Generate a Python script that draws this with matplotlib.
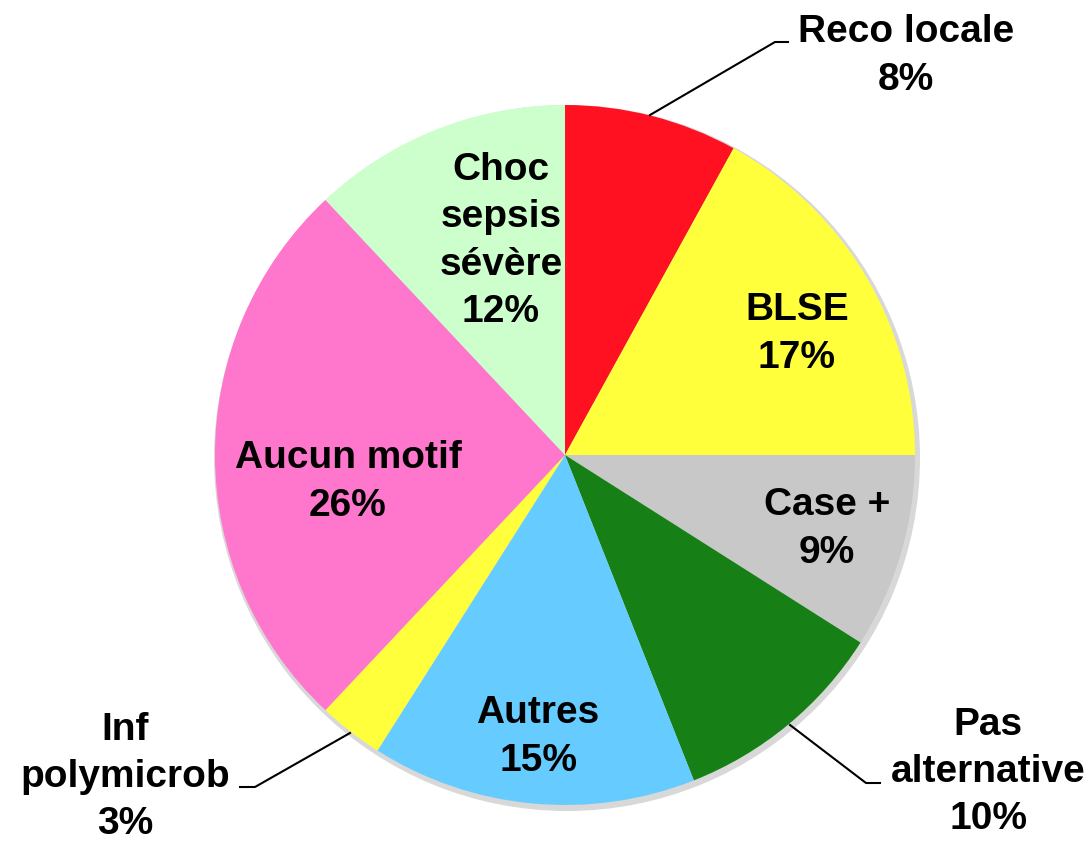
import matplotlib.pyplot as plt

plt.rcParams['font.family'] = ['Liberation Sans', 'DejaVu Sans']

labels = ["Reco locale", "BLSE", "Case +", "Pas\nalternative", "Autres",
          "Inf\npolymicrob", "Aucun motif", "Choc\nsepsis\nsévère"]
values = [8, 17, 9, 10, 15, 3, 26, 12]
colors = ["#FF1122", "#FFFF3C", "#C8C8C8", "#168016", "#66CCFF",
          "#FFFF3C", "#FF77CC", "#CCFFCC"]

W, H = 1091, 842
fig = plt.figure(figsize=(W / 100, H / 100), dpi=100)
ax = fig.add_axes([0, 0, 1, 1])

cx, cy, r = 565, H - 455, 350

# faint shadow under the pie
ax.pie([1], colors=["#D8D8D8"], radius=r + 3, center=(cx + 2, cy - 3),
       frame=True, wedgeprops=dict(linewidth=0))
ax.pie(values, colors=colors, radius=r, center=(cx, cy), startangle=90,
       counterclock=False, frame=True, wedgeprops=dict(linewidth=0))
ax.set_xlim(0, W)
ax.set_ylim(0, H)
ax.set_aspect("equal")
ax.axis("off")

# label positions in image pixels (x, y from top)
pos = [(906, 56), (797, 334), (827, 529), (988, 772), (538, 737),
       (125, 777), (348, 482), (501, 241)]
for lab, v, (x, y) in zip(labels, values, pos):
    ax.text(x, H - y, f"{lab}\n{v}%", ha="center", va="center",
            fontsize=28, fontweight="bold", linespacing=1.4, color="black")

leaders = [[(650, 115), (775, 42), (788, 42)],
           [(790, 725), (866, 783), (880, 783)],
           [(350, 733), (255, 787), (240, 787)]]
for pts in leaders:
    ax.plot([p[0] for p in pts], [H - p[1] for p in pts], color="black", lw=1.5)

fig.savefig("out.png", dpi=100)
